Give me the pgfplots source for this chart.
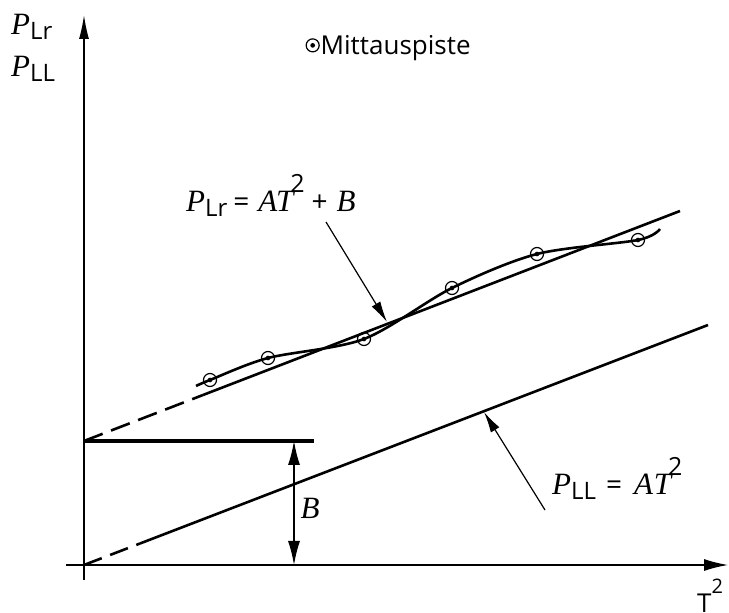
\documentclass[border=0pt]{standalone}
\usepackage{fontspec}
\setmainfont{Liberation Serif}
\newfontfamily\sans{Open Sans}
\usepackage{pgfplots}
\pgfplotsset{compat=1.18}
\usetikzlibrary{arrows.meta}

% measuring point: open circle with a dot in the middle
\pgfdeclareplotmark{odot}{%
  \pgfpathcircle{\pgfpointorigin}{\pgfplotmarksize}\pgfusepathqstroke
  \pgfpathcircle{\pgfpointorigin}{0.36\pgfplotmarksize}\pgfusepathqfill}

\newcommand\Pvar{{\fontsize{31}{34}\selectfont\itshape P}}
\newcommand\idx[1]{\raisebox{-5pt}{\fontsize{24}{28}\selectfont\sans #1}}
\newcommand\ivar[1]{{\fontsize{31}{34}\selectfont\itshape #1}}
\newcommand\op[1]{{\fontsize{28}{32}\selectfont\sans #1}}
\newcommand\sq{\raisebox{19pt}{\fontsize{25}{28}\selectfont\sans 2}}

\begin{document}
\begin{tikzpicture}
% page = axis area (1 unit = 1pt)
\useasboundingbox (0,0) rectangle (729pt,613pt);
\begin{axis}[
  x=1pt, y=1pt,
  xmin=-84, xmax=645, ymin=-48, ymax=565,
  hide axis, clip=false,
  legend style={draw=none, fill=none, inner sep=0pt, outer sep=0pt,
    at={(0.42,0.926)}, anchor=west,
    font=\fontsize{26}{30}\selectfont\sans,
    nodes={inner sep=1.5pt}},
  legend image code/.code={\draw[#1] plot[only marks] coordinates {(0pt,0pt)};},
]
% axes with arrow heads
\draw[line width=1.3pt, -{Latex[length=24pt,width=10pt]}] (axis cs:0,-15) -- (axis cs:0,550);
\draw[line width=1.3pt, -{Latex[length=24pt,width=12pt]}] (axis cs:-18,0) -- (axis cs:644,0);

% P_LL = A T^2 : through the origin
\addplot[line width=2.6pt, dash pattern=on 19pt off 9pt, forget plot] coordinates {(0,0) (56,21.5)};
\addplot[line width=2.6pt, forget plot] coordinates {(56,21.5) (624,240)};

% P_Lr = A T^2 + B : fitted line, intercept B
\addplot[line width=2.6pt, dash pattern=on 20pt off 9pt, forget plot] coordinates {(0,124) (119,170)};
\addplot[line width=2.6pt, forget plot] coordinates {(119,170) (596,354)};

% level B
\addplot[line width=3.6pt, forget plot] coordinates {(0,124) (230,124)};
\draw[line width=1.3pt, {Latex[length=24pt,width=12pt]}-{Latex[length=24pt,width=12pt]}]
  (axis cs:210,0) -- (axis cs:210,124);

% measured curve
\addplot[smooth, line width=2.6pt, forget plot] coordinates {
  (112,179) (126,185) (184,207) (280,226) (368,277) (453,311) (554,325) (576,336)};

% measuring points
\addplot[only marks, mark=odot, mark size=6.5pt, mark options={line width=1.2pt, fill=black}]
  coordinates {(126,185) (184,207) (280,226) (368,277) (453,311) (554,325)};
\addlegendentry{Mittauspiste}

% pointer arrows
\draw[line width=1.2pt, -{Latex[length=21pt,width=10pt]}] (axis cs:242,343) -- (axis cs:303,243);
\draw[line width=1.2pt, -{Latex[length=21pt,width=10pt]}] (axis cs:461,55) -- (axis cs:400,153);

% texts
\node[anchor=base west, inner sep=0pt] at (axis cs:-73,530) {\Pvar\idx{Lr}};
\node[anchor=base west, inner sep=0pt] at (axis cs:-73,488) {\Pvar\idx{LL}};
\node[anchor=base west, inner sep=0pt] at (axis cs:102,353)
  {\Pvar\idx{Lr}\hspace{6pt}\op{=}\hspace{9pt}\ivar{AT}\kern-3pt\sq\hspace{7pt}\op{+}\hspace{9pt}\ivar{B}};
\node[anchor=base west, inner sep=0pt] at (axis cs:468,70)
  {\Pvar\idx{LL}\hspace{10pt}\op{=}\hspace{12pt}\ivar{A}\kern1pt\ivar{T}\kern-3pt\sq};
\node[anchor=center, inner sep=0pt] at (axis cs:226,57) {\ivar{B}};
\node[anchor=base west, inner sep=0pt] at (axis cs:613,-48)
  {{\fontsize{26}{30}\selectfont\sans T}\raisebox{19pt}{\fontsize{20}{22}\selectfont\sans 2}};
\end{axis}
\end{tikzpicture}
\end{document}
